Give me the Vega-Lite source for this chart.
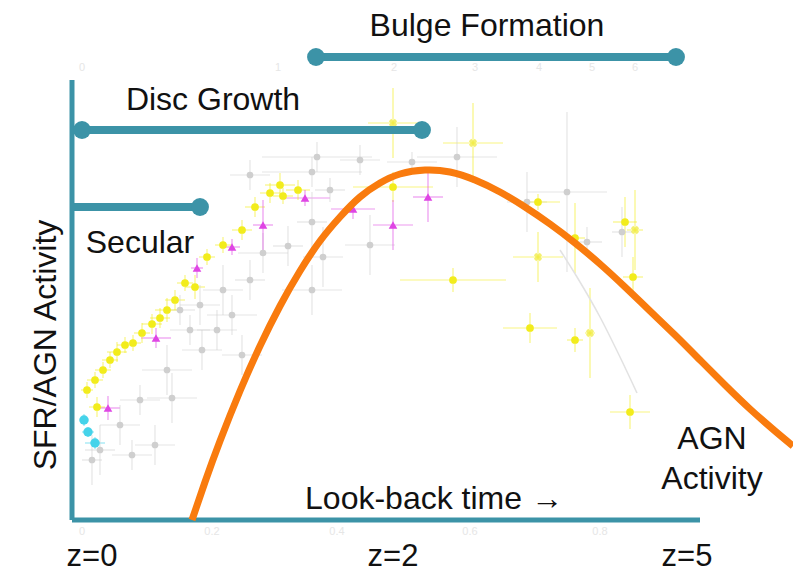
{
  "$schema": "https://vega.github.io/schema/vega-lite/v6.json",
  "width": 793,
  "height": 573,
  "autosize": "none",
  "padding": 0,
  "background": "white",
  "config": {"view": {"stroke": null}, "font": "Liberation Sans"},
  "datasets": {
    "pts": [
      {"set": "survey-x", "t": 6.42, "v": 7.94, "tlo": 5.92, "thi": 6.92, "vlo": 7.24, "vhi": 8.64},
      {"set": "survey-x", "t": 8.02, "v": 7.54, "tlo": 7.42, "thi": 8.62, "vlo": 6.74, "vhi": 8.34},
      {"set": "survey-x", "t": 9.32, "v": 5.26, "tlo": 8.82, "thi": 9.82, "vlo": 4.76, "vhi": 5.76},
      {"set": "survey-x", "t": 11.26, "v": 5.8, "tlo": 11.1, "thi": 11.42, "vlo": 5.0, "vhi": 6.6},
      {"set": "survey-x", "t": 10.36, "v": 3.74, "tlo": 10.26, "thi": 10.46, "vlo": 2.84, "vhi": 4.64},
      {"set": "compilation", "t": 4.9, "v": 7.26, "tlo": 3.8, "thi": 6.0, "vlo": 6.96, "vhi": 7.56},
      {"set": "compilation", "t": 4.8, "v": 6.96, "tlo": 3.8, "thi": 5.8, "vlo": 6.66, "vhi": 7.26},
      {"set": "compilation", "t": 7.7, "v": 7.26, "tlo": 6.9, "thi": 8.5, "vlo": 6.66, "vhi": 7.86},
      {"set": "compilation", "t": 6.8, "v": 7.16, "tlo": 6.3, "thi": 7.3, "vlo": 6.96, "vhi": 7.36},
      {"set": "compilation", "t": 9.9, "v": 6.56, "tlo": 9.1, "thi": 10.7, "vlo": 4.96, "vhi": 8.16},
      {"set": "compilation", "t": 4.8, "v": 5.96, "tlo": 4.5, "thi": 5.1, "vlo": 5.36, "vhi": 6.56},
      {"set": "compilation", "t": 5.02, "v": 5.26, "tlo": 4.62, "thi": 5.42, "vlo": 4.66, "vhi": 5.86},
      {"set": "compilation", "t": 4.8, "v": 4.6, "tlo": 4.2, "thi": 5.4, "vlo": 4.1, "vhi": 5.1},
      {"set": "compilation", "t": 5.96, "v": 5.5, "tlo": 5.46, "thi": 6.46, "vlo": 4.9, "vhi": 6.1},
      {"set": "compilation", "t": 9.1, "v": 6.36, "tlo": 8.7, "thi": 9.5, "vlo": 5.76, "vhi": 6.96},
      {"set": "compilation", "t": 11.0, "v": 5.76, "tlo": 10.8, "thi": 11.2, "vlo": 5.26, "vhi": 6.26},
      {"set": "compilation", "t": 10.3, "v": 5.56, "tlo": 10.0, "thi": 10.6, "vlo": 5.26, "vhi": 5.86},
      {"set": "compilation", "t": 3.82, "v": 5.34, "tlo": 3.32, "thi": 4.32, "vlo": 4.94, "vhi": 5.74},
      {"set": "compilation", "t": 3.02, "v": 4.6, "tlo": 2.62, "thi": 3.42, "vlo": 4.1, "vhi": 5.1},
      {"set": "compilation", "t": 3.2, "v": 4.1, "tlo": 2.7, "thi": 3.7, "vlo": 3.7, "vhi": 4.5},
      {"set": "compilation", "t": 2.9, "v": 3.8, "tlo": 2.5, "thi": 3.3, "vlo": 3.4, "vhi": 4.2},
      {"set": "compilation", "t": 1.9, "v": 3.0, "tlo": 1.4, "thi": 2.4, "vlo": 2.5, "vhi": 3.5},
      {"set": "compilation", "t": 2.0, "v": 2.44, "tlo": 1.5, "thi": 2.5, "vlo": 1.94, "vhi": 2.94},
      {"set": "compilation", "t": 1.66, "v": 1.5, "tlo": 1.26, "thi": 2.06, "vlo": 1.1, "vhi": 1.9},
      {"set": "compilation", "t": 0.96, "v": 1.9, "tlo": 0.56, "thi": 1.36, "vlo": 1.5, "vhi": 2.3},
      {"set": "compilation", "t": 0.56, "v": 1.4, "tlo": 0.26, "thi": 0.86, "vlo": 0.9, "vhi": 1.9},
      {"set": "compilation", "t": 3.56, "v": 4.8, "tlo": 3.26, "thi": 3.86, "vlo": 4.4, "vhi": 5.2},
      {"set": "compilation", "t": 2.56, "v": 4.3, "tlo": 2.16, "thi": 2.96, "vlo": 3.9, "vhi": 4.7},
      {"set": "compilation", "t": 2.36, "v": 3.8, "tlo": 1.96, "thi": 2.76, "vlo": 3.5, "vhi": 4.1},
      {"set": "compilation", "t": 1.36, "v": 2.4, "tlo": 0.96, "thi": 1.76, "vlo": 2.1, "vhi": 2.7},
      {"set": "compilation", "t": 5.76, "v": 7.2, "tlo": 5.36, "thi": 6.16, "vlo": 6.9, "vhi": 7.5},
      {"set": "compilation", "t": 3.56, "v": 6.9, "tlo": 3.16, "thi": 3.96, "vlo": 6.6, "vhi": 7.2},
      {"set": "compilation", "t": 5.16, "v": 6.6, "tlo": 4.86, "thi": 5.46, "vlo": 6.36, "vhi": 6.84},
      {"set": "compilation", "t": 2.16, "v": 4.2, "tlo": 1.86, "thi": 2.46, "vlo": 3.9, "vhi": 4.5},
      {"set": "compilation", "t": 4.32, "v": 5.48, "tlo": 4.02, "thi": 4.62, "vlo": 5.08, "vhi": 5.88},
      {"set": "compilation", "t": 0.4, "v": 1.2, "tlo": 0.2, "thi": 0.6, "vlo": 0.7, "vhi": 1.7},
      {"set": "compilation", "t": 2.6, "v": 3.4, "tlo": 2.2, "thi": 3.0, "vlo": 3.0, "vhi": 3.8},
      {"set": "compilation", "t": 3.4, "v": 3.3, "tlo": 3.0, "thi": 3.8, "vlo": 2.9, "vhi": 3.7},
      {"set": "compilation", "t": 1.2, "v": 1.3, "tlo": 0.8, "thi": 1.6, "vlo": 1.0, "vhi": 1.6},
      {"set": "survey", "t": 6.42, "v": 6.66, "tlo": 5.62, "thi": 7.22, "vlo": 6.36, "vhi": 6.96},
      {"set": "survey", "t": 4.16, "v": 6.7, "tlo": 3.86, "thi": 4.46, "vlo": 6.46, "vhi": 6.94},
      {"set": "survey", "t": 3.96, "v": 6.54, "tlo": 3.76, "thi": 4.16, "vlo": 6.34, "vhi": 6.74},
      {"set": "survey", "t": 4.22, "v": 6.48, "tlo": 4.02, "thi": 4.42, "vlo": 6.32, "vhi": 6.64},
      {"set": "survey", "t": 4.52, "v": 6.6, "tlo": 4.28, "thi": 4.76, "vlo": 6.4, "vhi": 6.8},
      {"set": "survey", "t": 3.66, "v": 6.26, "tlo": 3.46, "thi": 3.86, "vlo": 6.06, "vhi": 6.46},
      {"set": "survey", "t": 3.4, "v": 5.8, "tlo": 3.2, "thi": 3.6, "vlo": 5.6, "vhi": 6.0},
      {"set": "survey", "t": 3.02, "v": 5.5, "tlo": 2.86, "thi": 3.18, "vlo": 5.34, "vhi": 5.66},
      {"set": "survey", "t": 2.7, "v": 5.26, "tlo": 2.54, "thi": 2.86, "vlo": 5.1, "vhi": 5.42},
      {"set": "survey", "t": 2.46, "v": 4.66, "tlo": 2.26, "thi": 2.66, "vlo": 4.42, "vhi": 4.9},
      {"set": "survey", "t": 2.26, "v": 4.74, "tlo": 2.1, "thi": 2.42, "vlo": 4.58, "vhi": 4.9},
      {"set": "survey", "t": 2.06, "v": 4.4, "tlo": 1.86, "thi": 2.26, "vlo": 4.2, "vhi": 4.6},
      {"set": "survey", "t": 1.9, "v": 4.2, "tlo": 1.66, "thi": 2.14, "vlo": 3.96, "vhi": 4.44},
      {"set": "survey", "t": 1.76, "v": 4.04, "tlo": 1.56, "thi": 1.96, "vlo": 3.84, "vhi": 4.24},
      {"set": "survey", "t": 1.6, "v": 3.92, "tlo": 1.4, "thi": 1.8, "vlo": 3.72, "vhi": 4.12},
      {"set": "survey", "t": 1.4, "v": 3.74, "tlo": 1.24, "thi": 1.56, "vlo": 3.54, "vhi": 3.94},
      {"set": "survey", "t": 1.22, "v": 3.54, "tlo": 1.06, "thi": 1.38, "vlo": 3.38, "vhi": 3.7},
      {"set": "survey", "t": 1.06, "v": 3.5, "tlo": 0.9, "thi": 1.22, "vlo": 3.34, "vhi": 3.66},
      {"set": "survey", "t": 0.9, "v": 3.36, "tlo": 0.7, "thi": 1.1, "vlo": 3.16, "vhi": 3.56},
      {"set": "survey", "t": 0.76, "v": 3.2, "tlo": 0.6, "thi": 0.92, "vlo": 3.04, "vhi": 3.36},
      {"set": "survey", "t": 0.62, "v": 3.0, "tlo": 0.46, "thi": 0.78, "vlo": 2.84, "vhi": 3.16},
      {"set": "survey", "t": 0.46, "v": 2.8, "tlo": 0.3, "thi": 0.62, "vlo": 2.64, "vhi": 2.96},
      {"set": "survey", "t": 0.3, "v": 2.6, "tlo": 0.18, "thi": 0.42, "vlo": 2.44, "vhi": 2.76},
      {"set": "survey", "t": 0.5, "v": 2.26, "tlo": 0.34, "thi": 0.66, "vlo": 2.06, "vhi": 2.46},
      {"set": "survey", "t": 9.32, "v": 6.36, "tlo": 8.88, "thi": 9.76, "vlo": 6.2, "vhi": 6.52},
      {"set": "survey", "t": 7.62, "v": 4.8, "tlo": 6.56, "thi": 8.68, "vlo": 4.56, "vhi": 5.04},
      {"set": "survey", "t": 10.06, "v": 5.64, "tlo": 9.86, "thi": 10.26, "vlo": 4.94, "vhi": 6.34},
      {"set": "survey", "t": 11.06, "v": 5.96, "tlo": 10.82, "thi": 11.3, "vlo": 5.46, "vhi": 6.46},
      {"set": "survey", "t": 11.22, "v": 4.86, "tlo": 11.02, "thi": 11.42, "vlo": 4.46, "vhi": 5.26},
      {"set": "survey", "t": 9.16, "v": 3.84, "tlo": 8.62, "thi": 9.7, "vlo": 3.54, "vhi": 4.14},
      {"set": "survey", "t": 10.06, "v": 3.6, "tlo": 9.9, "thi": 10.22, "vlo": 3.36, "vhi": 3.84},
      {"set": "survey", "t": 11.16, "v": 2.16, "tlo": 10.76, "thi": 11.56, "vlo": 1.82, "vhi": 2.5},
      {"set": "agn", "t": 4.66, "v": 6.44, "tlo": 4.16, "thi": 5.16, "vlo": 6.28, "vhi": 6.6},
      {"set": "agn", "t": 3.82, "v": 5.9, "tlo": 3.62, "thi": 4.02, "vlo": 5.4, "vhi": 6.4},
      {"set": "agn", "t": 3.2, "v": 5.46, "tlo": 3.04, "thi": 3.36, "vlo": 5.3, "vhi": 5.62},
      {"set": "agn", "t": 2.5, "v": 5.04, "tlo": 2.38, "thi": 2.62, "vlo": 4.84, "vhi": 5.24},
      {"set": "agn", "t": 1.68, "v": 3.64, "tlo": 1.38, "thi": 1.98, "vlo": 3.44, "vhi": 3.84},
      {"set": "agn", "t": 0.72, "v": 2.24, "tlo": 0.48, "thi": 0.96, "vlo": 2.0, "vhi": 2.48},
      {"set": "agn", "t": 5.62, "v": 6.22, "tlo": 5.18, "thi": 6.06, "vlo": 6.02, "vhi": 6.42},
      {"set": "agn", "t": 6.42, "v": 5.9, "tlo": 6.02, "thi": 6.82, "vlo": 5.4, "vhi": 6.4},
      {"set": "agn", "t": 7.12, "v": 6.46, "tlo": 6.82, "thi": 7.42, "vlo": 5.96, "vhi": 6.96},
      {"set": "local", "t": 0.24, "v": 2.0, "tlo": 0.16, "thi": 0.32, "vlo": 1.88, "vhi": 2.12},
      {"set": "local", "t": 0.46, "v": 1.54, "tlo": 0.26, "thi": 0.66, "vlo": 1.42, "vhi": 1.66},
      {"set": "local", "t": 0.32, "v": 1.76, "tlo": 0.2, "thi": 0.44, "vlo": 1.66, "vhi": 1.86}
    ],
    "curve": [
      {"t": 2.4, "v": 0}, {"t": 2.66, "v": 0.76}, {"t": 2.96, "v": 1.58}, {"t": 3.36, "v": 2.58},
      {"t": 3.76, "v": 3.48}, {"t": 4.16, "v": 4.28}, {"t": 4.56, "v": 4.98}, {"t": 4.96, "v": 5.58},
      {"t": 5.36, "v": 6.06}, {"t": 5.76, "v": 6.46}, {"t": 6.16, "v": 6.74}, {"t": 6.56, "v": 6.92},
      {"t": 7.06, "v": 7.0}, {"t": 7.56, "v": 6.96}, {"t": 8.06, "v": 6.8}, {"t": 8.56, "v": 6.56},
      {"t": 9.06, "v": 6.26}, {"t": 9.56, "v": 5.92}, {"t": 10.06, "v": 5.54}, {"t": 10.56, "v": 5.12},
      {"t": 11.06, "v": 4.66}, {"t": 11.56, "v": 4.18}, {"t": 12.06, "v": 3.7}, {"t": 12.56, "v": 3.2},
      {"t": 13.06, "v": 2.7}, {"t": 13.56, "v": 2.22}, {"t": 14.06, "v": 1.78}, {"t": 14.42, "v": 1.48}
    ],
    "model": [
      {"t": 9.76, "v": 5.4}, {"t": 10.1, "v": 4.86}, {"t": 10.56, "v": 4.06}, {"t": 10.96, "v": 3.26}, {"t": 11.3, "v": 2.54}
    ],
    "frame": [
      {"t1": 0, "t2": 0, "v1": 0, "v2": 8.8},
      {"t1": 0, "t2": 12.56, "v1": 0, "v2": 0}
    ],
    "phases": [
      {"phase": "Secular", "t1": 0, "t2": 2.56, "v": 6.26},
      {"phase": "Disc Growth", "t1": 0, "t2": 7.0, "v": 7.8},
      {"phase": "Bulge Formation", "t1": 4.88, "t2": 12.08, "v": 9.26}
    ],
    "ends": [
      {"t": 2.56, "v": 6.26}, {"t": 0.2, "v": 7.8}, {"t": 7.0, "v": 7.8},
      {"t": 4.88, "v": 9.26}, {"t": 12.08, "v": 9.26}
    ],
    "labels": [
      {"text": "Bulge Formation", "t": 8.3, "v": 9.88},
      {"text": "Disc Growth", "t": 2.82, "v": 8.4},
      {"text": "Secular", "t": 1.36, "v": 5.54},
      {"text": "Look-back time →", "t": 7.24, "v": 0.42},
      {"text": "AGN", "t": 12.8, "v": 1.62},
      {"text": "Activity", "t": 12.8, "v": 0.82}
    ],
    "zlabels": [
      {"text": "z=0", "t": 0.4, "v": -0.74},
      {"text": "z=2", "t": 6.42, "v": -0.74},
      {"text": "z=5", "t": 12.3, "v": -0.74}
    ],
    "ylabel": [{"text": "SFR/AGN Activity", "t": -0.52, "v": 3.5}],
    "faint": [
      {"text": "0", "t": 0.2, "v": -0.24}, {"text": "0.2", "t": 2.8, "v": -0.24},
      {"text": "0.4", "t": 5.3, "v": -0.24}, {"text": "0.6", "t": 7.96, "v": -0.24},
      {"text": "0.8", "t": 10.56, "v": -0.24},
      {"text": "0", "t": 0.2, "v": 9.04}, {"text": "1", "t": 4.12, "v": 9.04},
      {"text": "2", "t": 6.44, "v": 9.04}, {"text": "3", "t": 8.06, "v": 9.04},
      {"text": "4", "t": 9.34, "v": 9.04}, {"text": "5", "t": 10.4, "v": 9.04},
      {"text": "6", "t": 11.26, "v": 9.04}
    ]
  },
  "layer": [
    {
      "data": {"name": "faint"},
      "mark": {"type": "text", "fontSize": 11, "color": "#e6e6e6"},
      "encoding": {
        "x": {"field": "t", "type": "quantitative", "scale": {"domain": [-1.44, 14.42], "nice": false, "zero": false}, "axis": null},
        "y": {"field": "v", "type": "quantitative", "scale": {"domain": [-1.06, 10.4], "nice": false, "zero": false}, "axis": null},
        "text": {"field": "text"}
      }
    },
    {
      "data": {"name": "pts"},
      "mark": {"type": "rule", "strokeWidth": 1.2, "opacity": 0.55},
      "encoding": {
        "x": {"field": "tlo", "type": "quantitative"},
        "x2": {"field": "thi"},
        "y": {"field": "v", "type": "quantitative"},
        "color": {"field": "set", "type": "nominal", "legend": null,
          "scale": {"domain": ["compilation", "survey", "survey-x", "agn", "local"],
                    "range": ["#cfcfcf", "#f2ec1c", "#f2ec1c", "#df45e4", "#45d3ea"]}}
      }
    },
    {
      "data": {"name": "pts"},
      "mark": {"type": "rule", "strokeWidth": 1.2, "opacity": 0.55},
      "encoding": {
        "x": {"field": "t", "type": "quantitative"},
        "y": {"field": "vlo", "type": "quantitative"},
        "y2": {"field": "vhi"},
        "color": {"field": "set", "type": "nominal", "legend": null}
      }
    },
    {
      "data": {"name": "model"},
      "mark": {"type": "line", "color": "#e2e2e2", "strokeWidth": 1.5, "interpolate": "monotone"},
      "encoding": {
        "x": {"field": "t", "type": "quantitative"},
        "y": {"field": "v", "type": "quantitative"}
      }
    },
    {
      "data": {"name": "pts"},
      "transform": [{"filter": "datum.set !== 'survey-x'"}],
      "mark": {"type": "point", "filled": true, "opacity": 1},
      "encoding": {
        "x": {"field": "t", "type": "quantitative"},
        "y": {"field": "v", "type": "quantitative"},
        "color": {"field": "set", "type": "nominal", "legend": null},
        "shape": {"field": "set", "type": "nominal", "legend": null,
          "scale": {"domain": ["compilation", "survey", "agn", "local"],
                    "range": ["circle", "circle", "triangle-up", "circle"]}},
        "size": {"field": "set", "type": "nominal", "legend": null,
          "scale": {"domain": ["compilation", "survey", "agn", "local"],
                    "range": [45, 90, 110, 60]}}
      }
    },
    {
      "data": {"name": "pts"},
      "transform": [{"filter": "datum.set === 'survey-x'"}],
      "mark": {"type": "point", "shape": "cross", "angle": 45, "filled": true, "size": 70, "color": "#f0ea30"},
      "encoding": {
        "x": {"field": "t", "type": "quantitative"},
        "y": {"field": "v", "type": "quantitative"}
      }
    },
    {
      "data": {"name": "frame"},
      "mark": {"type": "rule", "color": "#3c93a7", "strokeWidth": 5},
      "encoding": {
        "x": {"field": "t1", "type": "quantitative"},
        "x2": {"field": "t2"},
        "y": {"field": "v1", "type": "quantitative"},
        "y2": {"field": "v2"}
      }
    },
    {
      "data": {"name": "phases"},
      "mark": {"type": "rule", "color": "#3c93a7", "strokeWidth": 8},
      "encoding": {
        "x": {"field": "t1", "type": "quantitative"},
        "x2": {"field": "t2"},
        "y": {"field": "v", "type": "quantitative"}
      }
    },
    {
      "data": {"name": "ends"},
      "mark": {"type": "point", "filled": true, "shape": "circle", "size": 320, "color": "#3c93a7", "opacity": 1},
      "encoding": {
        "x": {"field": "t", "type": "quantitative"},
        "y": {"field": "v", "type": "quantitative"}
      }
    },
    {
      "data": {"name": "curve"},
      "mark": {"type": "line", "color": "#f97b0e", "strokeWidth": 7, "interpolate": "natural", "clip": true},
      "encoding": {
        "x": {"field": "t", "type": "quantitative"},
        "y": {"field": "v", "type": "quantitative"}
      }
    },
    {
      "data": {"name": "labels"},
      "mark": {"type": "text", "fontSize": 32, "color": "#111111", "align": "center", "baseline": "middle"},
      "encoding": {
        "x": {"field": "t", "type": "quantitative"},
        "y": {"field": "v", "type": "quantitative"},
        "text": {"field": "text"}
      }
    },
    {
      "data": {"name": "zlabels"},
      "mark": {"type": "text", "fontSize": 31, "color": "#111111", "align": "center", "baseline": "middle"},
      "encoding": {
        "x": {"field": "t", "type": "quantitative"},
        "y": {"field": "v", "type": "quantitative"},
        "text": {"field": "text"}
      }
    },
    {
      "data": {"name": "ylabel"},
      "mark": {"type": "text", "fontSize": 32, "color": "#111111", "align": "center", "baseline": "middle", "angle": 270},
      "encoding": {
        "x": {"field": "t", "type": "quantitative"},
        "y": {"field": "v", "type": "quantitative"},
        "text": {"field": "text"}
      }
    }
  ]
}
